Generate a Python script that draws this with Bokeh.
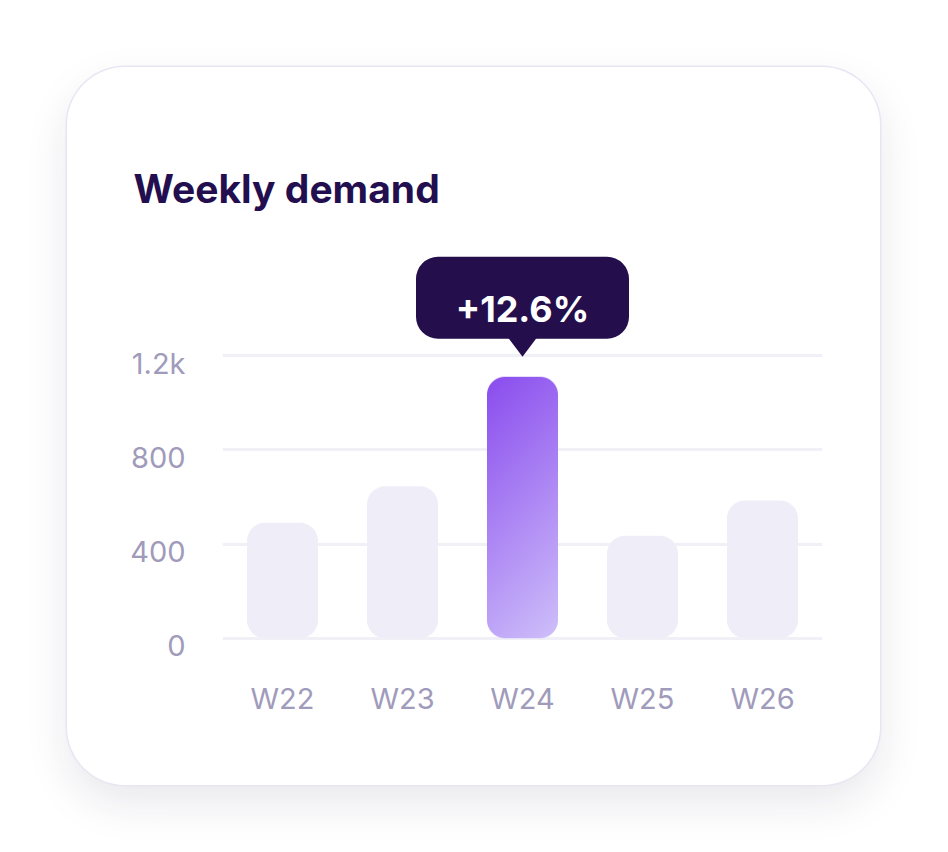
import numpy as np
from bokeh.plotting import figure
from bokeh.models import Range1d, FactorRange, FixedTicker, LinearAxis
from bokeh.core.properties import value
from bokeh.embed import file_html
from bokeh.resources import INLINE

# ---------------- data ----------------
weeks = ["W22", "W23", "W24", "W25", "W26"]
demand = [490, 645, 1110, 435, 585]
highlight_week = "W24"
highlight_label = "+12.6%"
y_ticks = [0, 400, 800, 1200]
y_tick_labels = ["0", "400", "800", "1.2k"]
title_text = "Weekly demand"

# ---------------- layout / style constants ----------------
CARD_X, CARD_Y, W, H = 67, 67, 813, 718       # card = the figure itself
FRAME_L, FRAME_T, FRAME_W, FRAME_H = 155, 173, 600, 406
PX_PER_UNIT = 94.2 / 400.0
ZERO_PAD = 8.3
LABEL_SHIFT = 7.5
FONT = "Inter"
DARK = "#240E4C"
MUTED = "#A09BBA"
BAR_GREY = "#EFEDF7"
GRID = "#F1F0F7"
BAR_PX = 71
BAR_R = 18

y0 = -ZERO_PAD / PX_PER_UNIT
y1 = y0 + FRAME_H / PX_PER_UNIT

card_styles = {
    "margin-left": f"{CARD_X}px",
    "margin-top": f"{CARD_Y}px",
    "border-radius": "58px",
    "background-color": "white",
    "box-shadow": "0 0 0 1.5px #E8E6F2, 0 18px 44px rgba(30, 25, 70, 0.10)",
}

p = figure(
    x_range=FactorRange(factors=weeks, range_padding=0),
    y_range=Range1d(y0, y1),
    frame_width=FRAME_W, frame_height=FRAME_H,
    min_border_left=FRAME_L, min_border_top=FRAME_T,
    min_border_right=W - FRAME_L - FRAME_W,
    min_border_bottom=H - FRAME_T - FRAME_H,
    output_backend="svg", toolbar_location=None, tools="",
    y_axis_location=None, styles=card_styles,
)
p.background_fill_color = None
p.border_fill_color = None
p.outline_line_color = None

# ---------------- title ----------------
p.title.text = title_text
p.title.text_font = FONT
p.title.text_font_size = "39px"
p.title.text_font_style = "bold"
p.title.text_color = "#230F4F"
p.title.align = "left"
p.title.offset = -89
p.title.standoff = 57

# ---------------- axes and grid ----------------
p.xgrid.visible = False
p.ygrid.ticker = FixedTicker(ticks=y_ticks)
p.ygrid.grid_line_color = GRID
p.ygrid.grid_line_width = 3

p.extra_y_ranges = {"labels": Range1d(y0 + LABEL_SHIFT / PX_PER_UNIT, y1 + LABEL_SHIFT / PX_PER_UNIT)}
yax = LinearAxis(y_range_name="labels", ticker=FixedTicker(ticks=y_ticks),
                 major_label_overrides={t: l for t, l in zip(y_ticks, y_tick_labels)})
p.add_layout(yax, "left")

for ax in (p.xaxis[0], yax):
    ax.axis_line_color = None
    ax.major_tick_line_color = None
    ax.minor_tick_line_color = None
    ax.major_tick_out = 0
    ax.major_tick_in = 0
    ax.minor_tick_out = 0
    ax.major_label_text_font = FONT
    ax.major_label_text_font_size = "29px"
    ax.major_label_text_color = MUTED
yax.major_label_standoff = 37
p.xaxis[0].major_label_standoff = 34

# ---------------- bars ----------------
cat_px = FRAME_W / len(weeks)
others = [w for w in weeks if w != highlight_week]
other_vals = [v for w, v in zip(weeks, demand) if w != highlight_week]
p.vbar(x=others, top=other_vals, bottom=0, width=BAR_PX / cat_px,
       fill_color=BAR_GREY, line_color=None, border_radius=BAR_R)

hv = demand[weeks.index(highlight_week)]
bh = int(round(hv * PX_PER_UNIT))
u = np.arange(BAR_PX) + 0.5
v = np.arange(bh) + 0.5
U, V = np.meshgrid(u, v)
t = (U + V) / (BAR_PX + bh)
c0 = np.array([0x8A, 0x4C, 0xEE], dtype=float)
c1 = np.array([0xCF, 0xC0, 0xFA], dtype=float)
rgb = c0 + (c1 - c0) * t[..., None]
cx = np.clip(U, BAR_R, BAR_PX - BAR_R)
cy = np.clip(V, BAR_R, bh - BAR_R)
d = np.hypot(U - cx, V - cy)
alpha = np.clip(BAR_R - d + 0.5, 0, 1)
img = np.zeros((bh, BAR_PX), dtype=np.uint32)
view = img.view(dtype=np.uint8).reshape((bh, BAR_PX, 4))
view[..., 0:3] = rgb.astype(np.uint8)
view[..., 3] = (alpha * 255).astype(np.uint8)
img = np.ascontiguousarray(np.flipud(img))
p.image_rgba(image=[img], x=[highlight_week], y=[0], dw=[BAR_PX], dh=[hv],
             dw_units="screen", dh_units="data", anchor="bottom_center")

# ---------------- tooltip ----------------
p.rect(x=[highlight_week], y=[hv + 79 / PX_PER_UNIT], width=213, height=82,
       width_units="screen", height_units="screen",
       fill_color=DARK, line_color=None, border_radius=22)
hw = 15 / cat_px
p.patch(x=[(highlight_week, -hw), (highlight_week, hw), (highlight_week, 0)],
        y=[hv + 40 / PX_PER_UNIT, hv + 40 / PX_PER_UNIT, hv + 20 / PX_PER_UNIT],
        fill_color=DARK, line_color=None)
p.text(x=[highlight_week], y=[hv], text=[highlight_label], y_offset=-68,
       text_align="center", text_baseline="middle", text_color="white",
       text_font=value(FONT), text_font_style="bold", text_font_size="36px")

open("out.html", "w").write(file_html(p, INLINE))
